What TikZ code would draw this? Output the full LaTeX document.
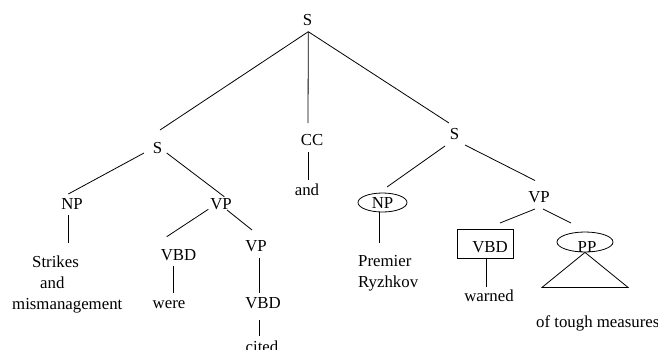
\documentclass[tikz,border=0pt]{standalone}
\usepackage{fontspec}
\setmainfont{Liberation Serif}
\usetikzlibrary{calc,shapes.geometric}
\begin{document}
\begin{tikzpicture}[x=1pt,y=-1pt,
  font=\fontsize{16.8}{21}\selectfont,
  lab/.style={inner sep=0pt,anchor=base},
  labw/.style={inner sep=0pt,anchor=base west},
  edge/.style={line width=0.8pt},
  oval/.style={draw,line width=0.8pt,ellipse,inner sep=0pt}]
\useasboundingbox (0,0) rectangle (658,349);
% labels
\node[lab] (S0) at (307.5,25) {S};
\node[lab] (S1) at (157.5,153) {S};
\node[lab] (CC) at (312,145) {CC};
\node[lab] (S2) at (454.5,139) {S};
\node[lab] (and) at (307,195) {and};
\node[lab] (NP1) at (72,209) {NP};
\node[lab] (VP1) at (221,209) {VP};
\node[labw] (W1) at (12,267.5) {\vtop{\baselineskip=21pt\hbox{\hspace*{20pt}Strikes}\hbox{\hspace*{28pt}and}\hbox{mismanagement}}};
\node[lab] (VBD1) at (178.5,260) {VBD};
\node[lab] (were) at (169,308) {were};
\node[lab] (VP2) at (256,251) {VP};
\node[lab] (VBD2) at (263,308) {VBD};
\node[lab] (cited) at (262,352.5) {cited};
\node[oval,minimum width=49pt,minimum height=19pt] (NP2e) at (382.5,202.5) {};
\node[lab] (NP2) at (382.5,208.5) {NP};
\node[labw] (W2) at (358,266) {\vtop{\baselineskip=21pt\hbox{Premier}\hbox{Ryzhkov}}};
\node[lab] (VP3) at (539,202) {VP};
\node[draw,line width=0.8pt,anchor=base,text height=17pt,text depth=0pt,inner xsep=6pt,inner ysep=6pt] (VBD3) at (485.5,252) {\hspace*{9pt}VBD};
\node[lab] (warned) at (489,301) {warned};
\node[oval,minimum width=56pt,minimum height=20pt] (PPe) at (585,242) {};
\node[lab] (PP) at (587,252) {PP};
\node[labw] (W3) at (536,327) {of tough measures};
% connectors
\draw[edge] ($(S0.base)+(0.8,6.7)$) -- ($(S1.base)+(2.5,-23)$);
\draw[edge] ($(S0.base)+(0.8,6.7)$) -- ($(CC.base)+(-4,-22)$);
\draw[edge] ($(S0.base)+(0.8,6.7)$) -- ($(S2.base)+(-5.5,-16)$);
\draw[edge] ($(CC.base)+(-4,7)$) -- ($(and.base)+(1,-15)$);
\draw[edge] ($(S1.base)+(-13.5,0)$) -- ($(NP1.base)+(-3.7,-15)$);
\draw[edge] ($(S1.base)+(9.2,0)$) -- ($(VP1.base)+(3.3,-12.3)$);
\draw[edge] ($(NP1.base)+(-4,6)$) -- ($(W1.base west)+(56,-24.5)$);
\draw[edge] ($(VP1.base)+(-12.7,0.3)$) -- ($(VBD1.base)+(-11.8,-23.3)$);
\draw[edge] ($(VP1.base)+(6,1)$) -- ($(VP2.base)+(-4,-21)$);
\draw[edge] ($(VBD1.base)+(-5.5,6)$) -- ($(were.base)+(4,-15)$);
\draw[edge] ($(VP2.base)+(3,7)$) -- ($(VBD2.base)+(-4,-15)$);
\draw[edge] ($(VBD2.base)+(-4,12)$) -- ($(cited.base)+(-3,-16.5)$);
\draw[edge] ($(S2.base)+(-9.5,7)$) -- ($(NP2e.center)+(4.5,-15.5)$);
\draw[edge] ($(S2.base)+(10.5,6)$) -- ($(VP3.base)+(-4,-21.5)$);
\draw[edge] ($(NP2e.center)+(-3,9.5)$) -- ($(W2.base west)+(21.5,-23)$);
\draw[edge] ($(VP3.base)+(-4,7)$) -- ($(VBD3.center)+(14.5,-20.5)$);
\draw[edge] ($(VP3.base)+(4,7)$) -- ($(PPe.center)+(-14,-19)$);
\draw[edge] ($(VBD3.south)+(0.5,0)$) -- ($(warned.base)+(-3,-14)$);
\draw[edge] (PPe.south) -- ++(-43,35) -- ++(86,0) -- cycle;
\end{tikzpicture}
\end{document}
